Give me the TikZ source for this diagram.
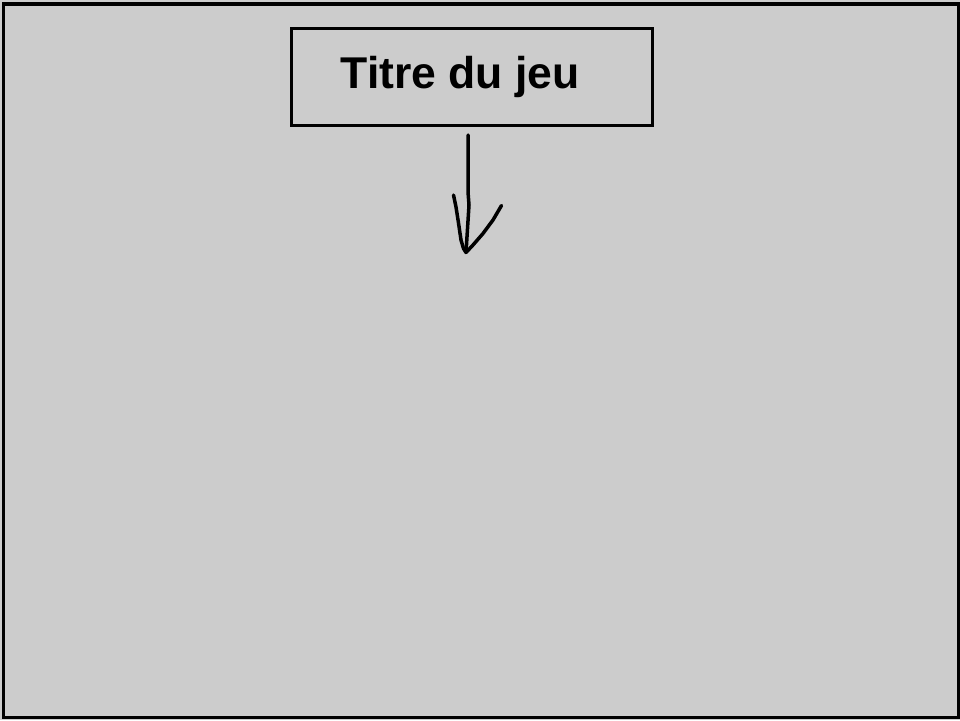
\documentclass[tikz,border=0pt]{standalone}
\usepackage{fontspec}
\setmainfont{Liberation Sans}
\begin{document}
\begin{tikzpicture}[x=1pt,y=-1pt,
  frame/.style={draw=black,line width=3.5pt},
  titlebox/.style={draw=black,line width=3pt,minimum width=361pt,minimum height=97pt,inner sep=0pt},
  titletext/.style={font=\fontsize{44.5}{50}\bfseries\selectfont,inner sep=0pt},
  pen/.style={draw=black,line width=3.5pt,line cap=round,line join=round}]
\fill[fill={rgb,255:red,204;green,204;blue,204}] (0,0) rectangle (960,720);
\useasboundingbox (0,0) rectangle (960,720);
\draw[frame] (3.5,4) rectangle (958.5,717.5);
\node[titlebox] (title) at (472,76.5) {};
\node[titletext,anchor=base west] (titletext) at (340.5,88) {Titre du jeu};
\coordinate (shafttop) at (468,135);
\coordinate (tip) at (466,252.5);
\draw[pen] (shafttop) -- (468,192) -- (469,205) -- (tip);
\draw[pen] (453.5,195) -- (456,207) -- (458.5,223) -- (461,240) -- (463.5,248.5) -- (tip);
\draw[pen] (501.5,205.5) -- (493,220) -- (483,233.5) -- (473,245) -- (tip);
\end{tikzpicture}
\end{document}
